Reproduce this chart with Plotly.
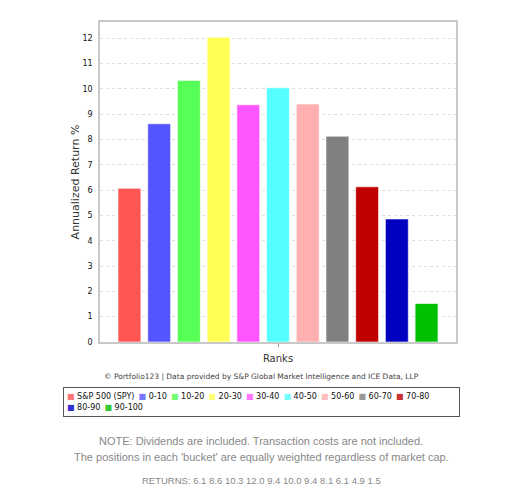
import plotly.graph_objects as go

buckets = ["S&P 500 (SPY)", "0-10", "10-20", "20-30", "30-40", "40-50",
           "50-60", "60-70", "70-80", "80-90", "90-100"]
returns = [6.07, 8.62, 10.33, 12.04, 9.37, 10.04, 9.40, 8.13, 6.13, 4.86, 1.52]
colors = ["#FF5555", "#5555FF", "#55FF55", "#FFFF55", "#FF55FF", "#55FFFF",
          "#FFAFAF", "#808080", "#C00000", "#0000C0", "#00C000"]
y_ticks = list(range(0, 13))

fig = go.Figure()
for name, val, col in zip(buckets, returns, colors):
    fig.add_trace(go.Bar(
        x=["Ranks"], y=[val], name=name,
        marker=dict(color=col, line=dict(color="rgba(255,255,255,0.6)", width=1)),
        hovertemplate=name + ": %{y:.1f}%<extra></extra>",
    ))

# page body adds an 8px offset, so the plot box is placed 8px up/left
fig.update_layout(
    width=521, height=493,
    paper_bgcolor="white", plot_bgcolor="white",
    margin=dict(l=92, r=73, t=14, b=159, autoexpand=False),
    barmode="group", bargap=0.082, bargroupgap=0.23,
    font=dict(family="DejaVu Sans", size=9, color="#222"),
    showlegend=False,
    xaxis=dict(
        title=dict(text="Ranks", font=dict(size=10, color="#333"), standoff=9),
        showticklabels=False, ticks="outside", ticklen=3, tickcolor="#999",
        showline=True, linecolor="#c8c8c8", linewidth=1.5, mirror=True, showgrid=False,
    ),
    yaxis=dict(
        title=dict(text="Annualized Return %", font=dict(size=11, color="#333"), standoff=1),
        range=[0, 12.64], tickvals=y_ticks, ticks="", ticklabelstandoff=4,
        showline=True, linecolor="#c8c8c8", linewidth=1.5, mirror=True,
        gridcolor="#ddd", griddash="dot", gridwidth=1, zeroline=False,
        tickfont=dict(size=8, color="#111"),
    ),
)

# legend box built from the bucket names and colours (two rows)
nb = "\u00a0"
gap = nb + "\u2009"
items = [f"<span style='color:{c};opacity:0.8'>■</span>{nb}{n}" for n, c in zip(buckets, colors)]
legend_text = gap.join(items[:9]) + "<br>" + gap.join(items[9:])
fig.add_annotation(
    text=legend_text, xref="paper", yref="paper",
    x=(63 - 100) / 356, y=(342 - 387) / 320, xanchor="left", yanchor="top",
    align="left", valign="middle", width=389, height=22, borderpad=3,
    bordercolor="#555", borderwidth=1, showarrow=False,
    font=dict(size=8, color="#111", family="DejaVu Sans"),
)

ret_text = "RETURNS: " + " ".join(f"{v:.1f}" for v in returns)
notes = [
    ("© Portfolio123 | Data provided by S&P Global Market Intelligence and ICE Data, LLP", 376, 7.5, "#444", "DejaVu Sans"),
    ("NOTE: Dividends are included. Transaction costs are not included.", 441, 11, "#888", "Liberation Sans"),
    ("The positions in each 'bucket' are equally weighted regardless of market cap.", 457, 11, "#888", "Liberation Sans"),
    (ret_text, 480, 9.5, "#888", "Liberation Sans"),
]
for text, ypx, size, col, fam in notes:
    fig.add_annotation(
        text=text, xref="paper", yref="paper",
        x=(261 - 100) / 356, y=(342 - ypx) / 320, xanchor="center", yanchor="middle",
        showarrow=False, font=dict(size=size, color=col, family=fam),
    )

fig.write_html("out.html")
